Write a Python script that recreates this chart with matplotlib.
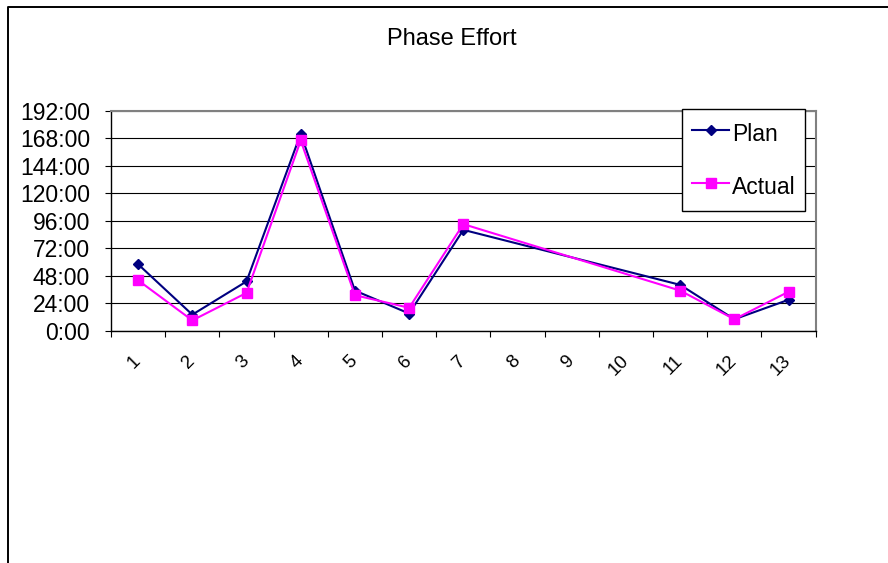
import numpy as np
import matplotlib
matplotlib.use("Agg")
import matplotlib.pyplot as plt
from matplotlib.lines import Line2D
from matplotlib.ticker import FuncFormatter

plt.rcParams['font.family'] = ['Liberation Sans', 'DejaVu Sans']

# Phases 1..13; phases 8-10 have no recorded effort
phases = [1, 2, 3, 4, 5, 6, 7, 8, 9, 10, 11, 12, 13]
plan_hours = [58, 14, 43, 172, 35, 15, 88, None, None, None, 40, 10, 27]
actual_hours = [44, 9, 33, 166, 31, 20, 93, None, None, None, 35, 10, 34]
y_ticks = [0, 24, 48, 72, 96, 120, 144, 168, 192]

W, H = 888, 563
fig = plt.figure(figsize=(W / 100, H / 100), dpi=100)
ax = fig.add_axes([111 / W, 1 - 330.7 / H, (815.7 - 111) / W, (330.7 - 110.7) / H])


def present(xs, ys):
    pts = [(x, y) for x, y in zip(xs, ys) if y is not None]
    return [p[0] for p in pts], [p[1] for p in pts]


px, py = present(phases, plan_hours)
axx, ayy = present(phases, actual_hours)

ax.plot(px, py, color='#000080', lw=1.5, marker='D', ms=4.8,
        markerfacecolor='#000080', markeredgecolor='#000080', label='Plan', zorder=3)
ax.plot(axx, ayy, color='#FF00FF', lw=1.5, marker='s', ms=7.2,
        markerfacecolor='#FF00FF', markeredgecolor='#FF00FF', label='Actual', zorder=4)

ax.set_xlim(0.5, len(phases) + 0.5)
ax.set_ylim(0, 192)

# y axis: hours shown as h:mm
ax.set_yticks(y_ticks)
ax.yaxis.set_major_formatter(FuncFormatter(lambda v, _: f"{int(round(v))}:00"))
ax.tick_params(axis='y', which='major', length=4.3, width=0.8, pad=10.8,
               labelsize=16.5, color='black')
ax.yaxis.grid(True, color='black', lw=0.8)
ax.set_axisbelow(True)

# x axis: tick marks between categories, labels at category centres
ax.set_xticks(np.arange(0.5, len(phases) + 1, 1))
ax.set_xticklabels([])
ax.tick_params(axis='x', which='major', length=4.3, width=0.8, color='black')
ax.set_xticks(phases, minor=True)
ax.set_xticklabels([str(p) for p in phases], minor=True)
ax.tick_params(axis='x', which='minor', length=0, pad=20, labelsize=13.5)
for lbl in ax.get_xticklabels(minor=True):
    lbl.set_rotation(45)
    lbl.set_ha('right')
    lbl.set_va('center')
    lbl.set_rotation_mode('anchor')

for side in ('left', 'bottom'):
    ax.spines[side].set_color('black')
    ax.spines[side].set_linewidth(1.0)
for side in ('top', 'right'):
    ax.spines[side].set_color('#808080')
    ax.spines[side].set_linewidth(1.5)

leg = ax.legend(loc='upper left', bbox_to_anchor=(682 / W, 1 - 109 / H),
                bbox_transform=fig.transFigure, frameon=True, fancybox=False,
                framealpha=1, edgecolor='black', fontsize=16.5, numpoints=1,
                handlelength=1.65, handleheight=1.6, handletextpad=0.12,
                labelspacing=1.05, borderpad=0.42, borderaxespad=0)
leg.get_frame().set_linewidth(1.0)
leg.set_zorder(10)

fig.text(451.7 / W, 1 - 45 / H, 'Phase Effort', ha='center', va='baseline', fontsize=17)

# chart frame on the left and top edges
fig.add_artist(Line2D([8 / W, 8 / W, 1], [0, 1 - 7 / H, 1 - 7 / H],
                      transform=fig.transFigure, color='black', lw=1.4))

fig.savefig('out.png', dpi=100)
